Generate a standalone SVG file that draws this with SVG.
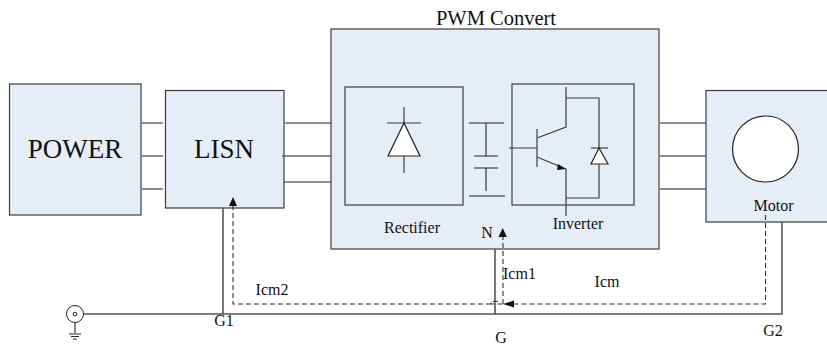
<svg xmlns="http://www.w3.org/2000/svg" width="827" height="345" viewBox="0 0 827 345">
<style>
text{font-family:"Liberation Serif",serif;fill:#111}
.b{fill:#e6edf7;stroke:#3c3c3c;stroke-width:1.2}
.i{fill:none;stroke:#3c3c3c;stroke-width:1.2}
.l{fill:none;stroke:#222;stroke-width:1.1}
.m{fill:none;stroke:#666;stroke-width:1.3}
.g{fill:none;stroke:#555;stroke-width:1.6}
.d{fill:none;stroke:#333;stroke-width:1.1;stroke-dasharray:5 3}
.w{fill:#fff;stroke:#222;stroke-width:1.2}
.s{font-size:16px}
</style>
<g id="power"><rect class="b" x="9.500" y="84" width="131.500" height="131"/><text x="75" y="158" font-size="27" text-anchor="middle">POWER</text></g>
<g id="lisn"><rect class="b" x="165.500" y="90.500" width="118.500" height="117.500"/><text x="224" y="158" font-size="27" text-anchor="middle">LISN</text></g>
<g id="pwm-convert"><rect class="b" x="331" y="29" width="328" height="220"/><text x="496" y="25" font-size="20.500" text-anchor="middle">PWM Convert</text></g>
<g id="rectifier"><rect class="i" x="345" y="87" width="118" height="118"/>
<path class="i" d="M404,107V123M387,123H421M404,156V173"/><path class="w" d="M404,123L388,156H420Z"/>
<text x="412" y="233" class="s" text-anchor="middle">Rectifier</text></g>
<g id="capacitor"><path class="l" d="M469,123H504M486,123V156M474,156H498M474,168H498M486,168V191M469,196H505"/></g>
<g id="inverter"><rect class="i" x="512" y="84" width="122" height="121"/>
<path class="i" d="M566,87V127L537,138M509,148H537M537,129V167M537,157L566,169M566,169V216M566,98H599V148M599,164V198H566"/>
<path d="M558,164L566,169L557,170Z" fill="#111"/>
<path class="i" d="M591,148H608"/><path class="w" d="M599,148L591,164H608Z"/>
<text x="578" y="229" class="s" text-anchor="middle">Inverter</text></g>
<g id="motor"><rect class="b" x="706" y="90.500" width="122" height="131.500"/><circle cx="765.500" cy="149" r="33" fill="#fff" stroke="#222" stroke-width="1.200"/><text x="773.500" y="211" class="s" text-anchor="middle">Motor</text></g>
<g id="connectors">
<path class="l" d="M142,123H163M285,123H331M660,123H706M284,182H331"/>
<path class="m" d="M142,156H163M142,189H163M282,156H331M660,156H706M660,189H706"/>
<path class="g" d="M223,208V314M83,314H782V222M495,249V314"/>
<path class="d" d="M765.500,215V304H491V301.500H499M491,304H233V205"/>
<path class="d" d="M503,304V236"/>
<path d="M233,197L229,206H237Z" fill="#111"/>
<path d="M502.700,228L498.500,237H506.900Z" fill="#111"/>
<path d="M503,304L514,300.500V307.500Z" fill="#111"/>
</g>
<g id="ground"><circle cx="75" cy="314" r="8.500" fill="#fff" stroke="#222"/><circle cx="75" cy="314" r="1.800" fill="none" stroke="#222"/><path class="l" d="M75,322V333M69,334H81M71,336.500H79M73,339H77"/></g>
<g id="labels" class="s">
<text x="487" y="238" text-anchor="middle">N</text>
<text x="272" y="295" text-anchor="middle">Icm2</text>
<text x="503" y="279">Icm1</text>
<text x="607" y="287" text-anchor="middle">Icm</text>
<text x="224" y="326" text-anchor="middle">G1</text>
<text x="501" y="343" text-anchor="middle">G</text>
<text x="773" y="336" text-anchor="middle">G2</text>
</g>
</svg>
